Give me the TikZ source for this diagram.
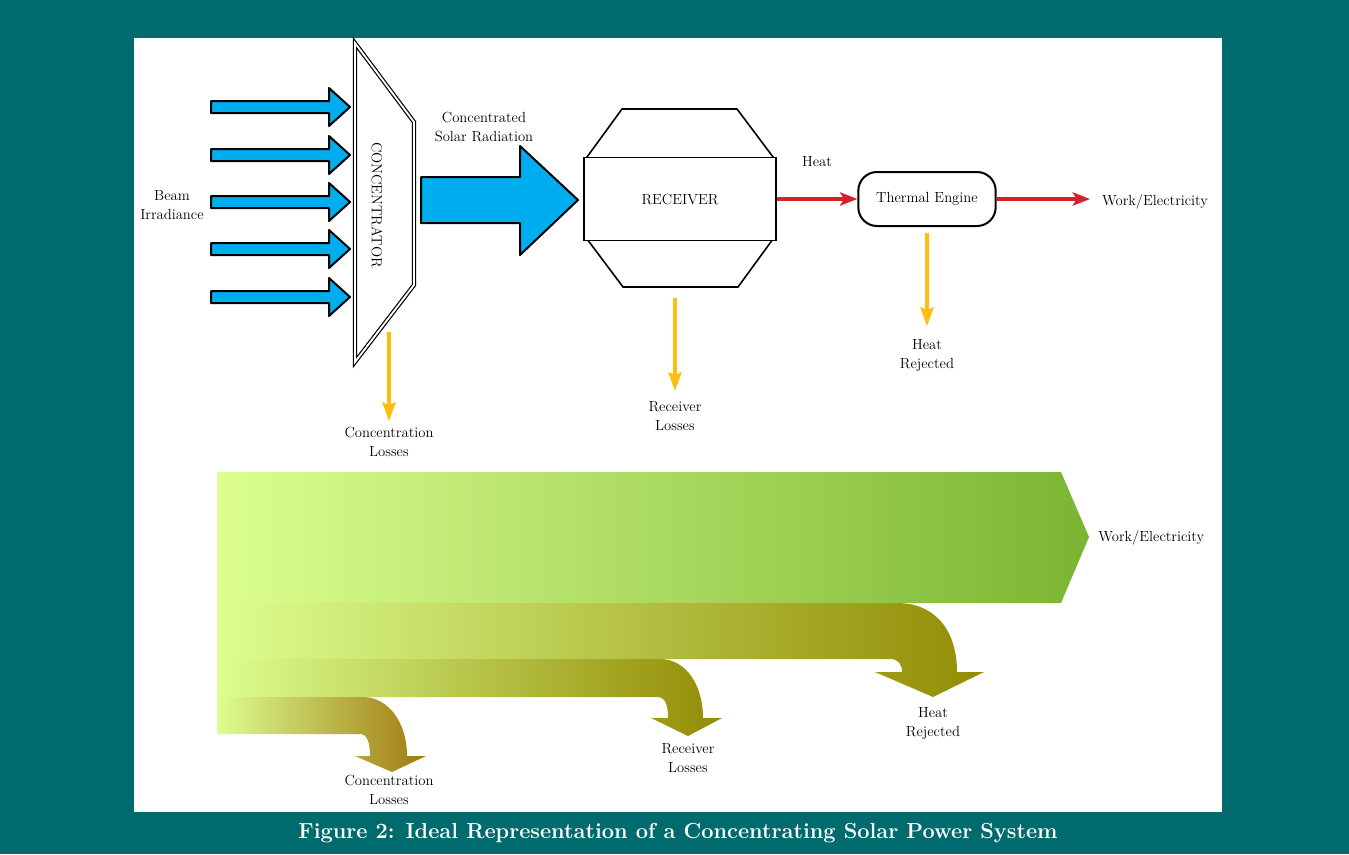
\documentclass[tikz,border=0pt]{standalone}
\usepackage{xcolor}
\usetikzlibrary{arrows.meta, positioning}

\definecolor{cspteal}{RGB}{0,107,110}
\definecolor{beamblue}{RGB}{0,174,239}
\definecolor{heatred}{RGB}{210,35,42}
\definecolor{lossyellow}{RGB}{253,190,16}
\definecolor{paleleaf}{RGB}{220,255,143}
\definecolor{leafgreen}{RGB}{122,181,50}
\definecolor{olive}{RGB}{147,140,5}
\definecolor{ochre}{RGB}{160,122,16}

\begin{document}
\begin{tikzpicture}[x=0.75pt, y=-0.75pt,
	lbl/.style={font=\fontsize{11}{14.25}\selectfont, align=center, inner sep=0pt},
	beam/.style={draw=black, line width=1.5pt, fill=beamblue, line join=round},
	conc/.style={draw=black, line width=0.9pt, double=white, double distance=1.4pt},
	boxline/.style={draw=black, line width=1.2pt},
	recbox/.style={boxline, fill=white, minimum width=144pt, minimum height=62pt, font=\fontsize{11}{13}\selectfont},
	engine/.style={draw=black, line width=1.5pt, rounded corners=14pt, minimum width=103pt, minimum height=40.5pt, font=\fontsize{11}{13}\selectfont},
	heatarrow/.style={draw=heatred, line width=2.3pt, -{Stealth[length=13pt, width=10pt, inset=3pt]}},
	lossarrow/.style={draw=lossyellow, line width=2.3pt, -{Stealth[length=14pt, width=10pt, inset=2pt]}}]

	\fill[cspteal] (0,0) rectangle (1349,854);
	\fill[white] (134,38) rectangle (1222,812);

	\foreach \yy in {107,155,202,249,297}
		\draw[beam] (211,\yy-6) -- (329,\yy-6) -- (329,\yy-19) -- (350,\yy) -- (329,\yy+19) -- (329,\yy+6) -- (211,\yy+6) -- cycle;
	\node[lbl] (beamlbl) at (172,205) {Beam\\Irradiance};

	\draw[conc] (355,43) -- (414,122) -- (414,285) -- (355,362) -- cycle;
	\node[lbl, rotate=-90] (conclbl) at (377,205) {CONCENTRATOR};

	\draw[beam] (421,177) -- (520,177) -- (520,146) -- (578,200) -- (520,255) -- (520,223) -- (421,223) -- cycle;
	\node[lbl] (radlbl) at (484,127) {Concentrated\\Solar Radiation};

	\draw[boxline] (622,109) -- (737,109) -- (773,157) -- (773,239) -- (738,287) -- (623,287) -- (587,239) -- (587,157) -- cycle;
	\node[recbox] (rec) at (680,199) {RECEIVER};

	\node[engine] (eng) at (927,199) {Thermal Engine};
	\coordinate (workend) at (1090,199);
	\draw[heatarrow] (rec.east) -- (eng.west);
	\draw[heatarrow] (eng.east) -- (workend);
	\node[lbl] (heatlbl) at (817,162) {Heat};
	\node[lbl] (worklbl) at (1155,202) {Work/Electricity};

	\coordinate (concout) at (389,332);
	\coordinate (concend) at (389,421);
	\coordinate (recout) at (675,298);
	\coordinate (recend) at (675,391);
	\coordinate (engout) at (927,233);
	\coordinate (engend) at (927,326);
	\draw[lossarrow] (concout) -- (concend);
	\draw[lossarrow] (recout) -- (recend);
	\draw[lossarrow] (engout) -- (engend);
	\node[lbl] (conclosslbl) at (389,442) {Concentration\\Losses};
	\node[lbl] (reclosslbl) at (675,416) {Receiver\\Losses};
	\node[lbl] (rejectlbl) at (927,355) {Heat\\Rejected};

	\shade[left color=paleleaf, right color=leafgreen] (217,472) -- (1061,472) -- (1089,537) -- (1061,603) -- (217,603) -- cycle;
	\shade[left color=paleleaf, right color=olive] (217,603) -- (897,603) .. controls (935,603) and (957,630) .. (957,672) -- (984,672) -- (933,697) -- (875,672) -- (902,672) .. controls (902,664) and (898,659) .. (890,659) -- (217,659) -- cycle;
	\shade[left color=paleleaf, right color=olive] (217,659) -- (660,659) .. controls (686,659) and (703,685) .. (703,718) -- (722,718) -- (688,736) -- (651,718) -- (668,718) .. controls (668,704) and (665,697) .. (657,697) -- (217,697) -- cycle;
	\shade[left color=paleleaf, right color=ochre] (217,697) -- (363,697) .. controls (388,697) and (407,722) .. (407,756) -- (426,756) -- (392,772) -- (355,756) -- (370,756) .. controls (370,742) and (367,734) .. (360,734) -- (217,734) -- cycle;

	\node[lbl, anchor=west] (workflow) at (1098,538) {Work/Electricity};
	\node[lbl] (rejectflow) at (933,723) {Heat\\Rejected};
	\node[lbl] (recflow) at (688,758) {Receiver\\Losses};
	\node[lbl] (concflow) at (389,790) {Concentration\\Losses};

	\node[font=\fontsize{16.3}{19}\selectfont\bfseries, text=white, inner sep=0pt] (caption) at (678,833) {Figure 2: Ideal Representation of a Concentrating Solar Power System};
\end{tikzpicture}
\end{document}
